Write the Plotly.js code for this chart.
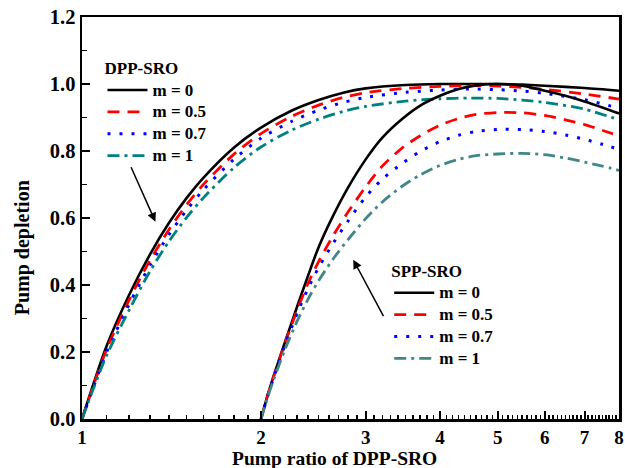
<!DOCTYPE html>
<html>
<head>
<meta charset="utf-8">
<script src="https://cdn.plot.ly/plotly-3.0.1.min.js"></script>
<style>html,body{margin:0;padding:0;background:#fff;}#chart{width:625px;height:468px;}</style>
</head>
<body>
<div id="chart"></div>
<script>
// ---- Data ----
const dppX = [1, 1.05, 1.1, 1.2, 1.3, 1.4, 1.5, 1.6, 1.8, 2.0, 2.25, 2.5, 2.75, 3, 3.5, 4, 4.5, 5, 5.5, 6, 7, 8];
const dppM0  = [0, 0.115, 0.218, 0.37, 0.49, 0.585, 0.66, 0.72, 0.81, 0.87, 0.92, 0.952, 0.974, 0.987, 0.997, 1.0, 1.0, 1.0, 0.998, 0.995, 0.988, 0.98];
const dppM05 = [0, 0.11, 0.208, 0.355, 0.472, 0.565, 0.64, 0.7, 0.79, 0.852, 0.903, 0.937, 0.96, 0.974, 0.987, 0.993, 0.995, 0.994, 0.99, 0.984, 0.97, 0.955];
const dppM07 = [0, 0.105, 0.2, 0.342, 0.458, 0.55, 0.624, 0.684, 0.775, 0.838, 0.888, 0.922, 0.945, 0.96, 0.975, 0.982, 0.985, 0.983, 0.979, 0.972, 0.953, 0.928];
const dppM1  = [0, 0.1, 0.19, 0.325, 0.44, 0.53, 0.602, 0.66, 0.75, 0.812, 0.862, 0.895, 0.918, 0.933, 0.949, 0.956, 0.958, 0.957, 0.952, 0.945, 0.925, 0.893];

const sppX = [2, 2.05, 2.1, 2.2, 2.3, 2.4, 2.5, 2.65, 2.8, 3, 3.2, 3.45, 3.7, 4, 4.3, 4.6, 5, 5.5, 6, 6.5, 7, 7.5, 8];
const sppM0  = [0, 0.068, 0.128, 0.235, 0.335, 0.428, 0.513, 0.61, 0.69, 0.775, 0.84, 0.895, 0.935, 0.965, 0.985, 0.996, 1.0, 0.995, 0.98, 0.965, 0.948, 0.93, 0.912];
const sppM05 = [0, 0.068, 0.126, 0.232, 0.325, 0.405, 0.47, 0.55, 0.617, 0.693, 0.755, 0.808, 0.845, 0.877, 0.897, 0.909, 0.915, 0.914, 0.906, 0.893, 0.879, 0.862, 0.845];
const sppM07 = [0, 0.066, 0.123, 0.226, 0.315, 0.39, 0.452, 0.527, 0.59, 0.663, 0.716, 0.762, 0.798, 0.828, 0.847, 0.858, 0.864, 0.864, 0.858, 0.848, 0.835, 0.82, 0.805];
const sppM1  = [0, 0.062, 0.117, 0.212, 0.292, 0.358, 0.413, 0.48, 0.535, 0.598, 0.648, 0.694, 0.728, 0.757, 0.775, 0.786, 0.791, 0.793, 0.789, 0.779, 0.767, 0.755, 0.742];

const legendLabels = ['m = 0', 'm = 0.5', 'm = 0.7', 'm = 1'];
const xTickVals = [1, 2, 3, 4, 5, 6, 7, 8];
const xTickText = ['1', '2', '3', '4', '5', '6', '7', '8'];

// ---- Styles ----
const FONT = 'Liberation Serif, Times New Roman, serif';
const styles = [
  {color: '#000000', dash: 'solid', width: 2.6},
  {color: '#ff0000', dash: '12px,8px', width: 2.8},
  {color: '#0000ff', dash: '3px,9px', width: 3},
  {color: '#008080', dash: '12px,5px,3px,5px', width: 2.8}
];
const sppTeal = '#428787';

const dppSeries = [dppM0, dppM05, dppM07, dppM1];
const sppSeries = [sppM0, sppM05, sppM07, sppM1];

function lbl(t) { return '<span style="font-size:17px">' + t + '</span>'; }

const traces = [];
dppSeries.forEach((ys, i) => {
  traces.push({
    x: dppX, y: ys, type: 'scatter', mode: 'lines', name: lbl(legendLabels[i]),
    line: {color: styles[i].color, dash: styles[i].dash, width: styles[i].width, shape: 'spline', smoothing: 0.8},
    legend: 'legend', hoverinfo: 'skip'
  });
});
sppSeries.forEach((ys, i) => {
  traces.push({
    x: sppX, y: ys, type: 'scatter', mode: 'lines', name: lbl(legendLabels[i]),
    line: {color: i === 3 ? sppTeal : styles[i].color, dash: styles[i].dash, width: styles[i].width, shape: 'spline', smoothing: 0.8},
    legend: 'legend2', hoverinfo: 'skip'
  });
});

// minor tick positions on the log axis (every 0.1)
const xMinor = [];
for (let k = 11; k < 80; k++) { if (k % 10 !== 0) xMinor.push(k / 10); }

const legendFont = {family: FONT, size: 14.5, color: '#000', weight: 'bold'};
const legendTitleFont = {family: FONT, size: 17, color: '#000', weight: 'bold'};

const L = 81.5, R = 619, T = 17, B = 419.5;
function px(xp) { return (xp - L) / (R - L); }
function py(yp) { return (B - yp) / (B - T); }

const layout = {
  width: 625, height: 468,
  margin: {l: 81.5, r: 6, t: 17, b: 48.5},
  paper_bgcolor: '#fff', plot_bgcolor: '#fff',
  font: {family: FONT, color: '#000'},
  showlegend: true,
  xaxis: {
    type: 'log', range: [0, Math.log10(8)],
    tickvals: xTickVals, ticktext: xTickText,
    ticks: 'inside', ticklen: 8, tickwidth: 2, tickcolor: '#000',
    minor: {tickvals: xMinor, ticks: 'inside', ticklen: 4.5, tickwidth: 1.5, tickcolor: '#000'},
    showline: true, linewidth: 2.5, linecolor: '#000', mirror: true,
    showgrid: false, zeroline: false,
    tickfont: {family: FONT, size: 19, color: '#000', weight: 'bold'}
  },
  yaxis: {
    range: [0, 1.2], dtick: 0.2, tick0: 0, tickformat: '.1f',
    ticks: 'inside', ticklen: 8, tickwidth: 2, tickcolor: '#000',
    minor: {dtick: 0.1, ticks: 'inside', ticklen: 5, tickwidth: 1.5, tickcolor: '#000'},
    showline: true, linewidth: 2.5, linecolor: '#000', mirror: true,
    showgrid: false, zeroline: false,
    tickfont: {family: FONT, size: 20.5, color: '#000', weight: 'bold'}
  },
  legend: {
    x: px(102), y: py(52), xanchor: 'left', yanchor: 'top',
    bgcolor: 'rgba(0,0,0,0)', borderwidth: 0,
    font: legendFont, title: {text: 'DPP-SRO', font: legendTitleFont},
    tracegroupgap: 0, itemwidth: 40
  },
  legend2: {
    x: px(389), y: py(255), xanchor: 'left', yanchor: 'top',
    bgcolor: 'rgba(0,0,0,0)', borderwidth: 0,
    font: legendFont, title: {text: 'SPP-SRO', font: legendTitleFont},
    tracegroupgap: 0, itemwidth: 40
  },
  annotations: [
    {xref: 'paper', yref: 'paper', x: px(334), y: py(459), text: 'Pump ratio of DPP-SRO', showarrow: false,
     font: {family: FONT, size: 19.5, color: '#000', weight: 'bold'}, xanchor: 'center', yanchor: 'middle'},
    {xref: 'paper', yref: 'paper', x: px(22), y: py(248), text: 'Pump depletion', showarrow: false, textangle: -90,
     font: {family: FONT, size: 20, color: '#000', weight: 'bold'}, xanchor: 'center', yanchor: 'middle'},
    {xref: 'paper', yref: 'paper', x: px(155), y: py(222), ax: 130 - 155, ay: 166 - 222, axref: 'pixel', ayref: 'pixel',
     text: '', showarrow: true, arrowhead: 2, arrowsize: 1.2, arrowwidth: 1.5, arrowcolor: '#000'},
    {xref: 'paper', yref: 'paper', x: px(353), y: py(260), ax: 384 - 353, ay: 318 - 260, axref: 'pixel', ayref: 'pixel',
     text: '', showarrow: true, arrowhead: 2, arrowsize: 1.2, arrowwidth: 1.5, arrowcolor: '#000'}
  ]
};

Plotly.newPlot('chart', traces, layout, {displayModeBar: false, staticPlot: true});
</script>
</body>
</html>
